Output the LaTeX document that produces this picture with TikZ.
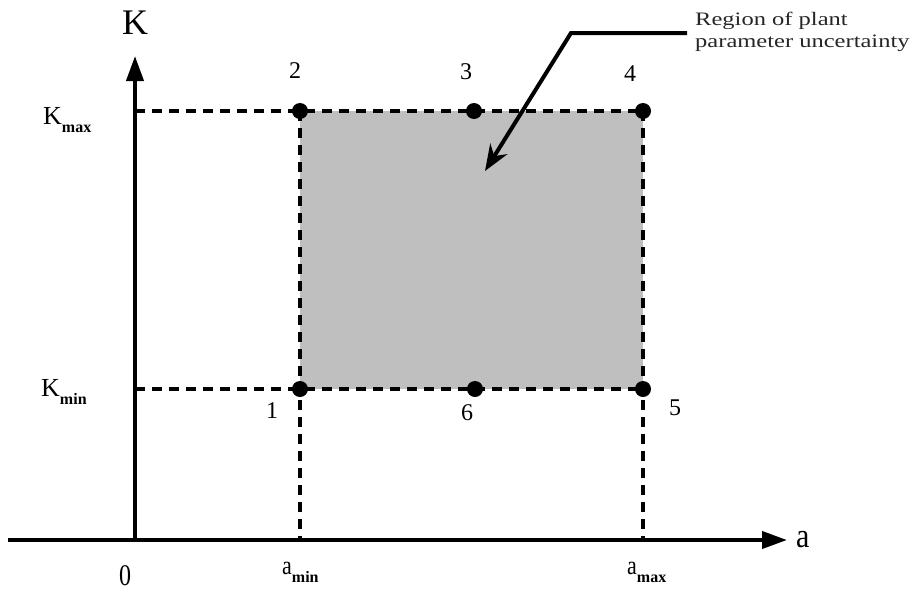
\documentclass[tikz,border=0pt]{standalone}
\usepackage{fontspec}
\setmainfont{Liberation Serif}
\usetikzlibrary{arrows.meta}
\begin{document}
\begin{tikzpicture}[x=1pt,y=-1pt,
  axis/.style={line width=4pt,-{Triangle[length=25pt,width=17pt]}},
  guide/.style={line width=4pt,dash pattern=on 10pt off 7pt},
  dot/.style={circle,fill=black,inner sep=0pt,minimum size=16pt},
  lbl/.style={inner sep=0pt,font=\fontsize{24}{24}\selectfont},
  txt/.style={inner sep=0pt,anchor=base west,text=black!85,font=\fontsize{19}{19}\selectfont},
]
\useasboundingbox (0,0) rectangle (916,592);
% key coordinates
\coordinate (xs) at (8,540);
\coordinate (xe) at (787,540);
\coordinate (ys) at (135,542);
\coordinate (ye) at (135,56);
\coordinate (kmaxax) at (135,111);
\coordinate (kminax) at (135,389);
\coordinate (aminax) at (300,540);
\coordinate (amaxax) at (643,540);
\coordinate (c1) at (300,389);
\coordinate (c2) at (300,111);
\coordinate (c3) at (474,111);
\coordinate (c4) at (643,111);
\coordinate (c5) at (643,389);
\coordinate (c6) at (475,389);
% shaded region
\fill[black!25] (c2) rectangle (c5);
% dashed guides
\draw[guide] (kmaxax) -- (c4);
\draw[guide] (kminax) -- (c5);
\draw[guide] (c2) -- (aminax);
\draw[guide] (c4) -- (amaxax);
% axes
\draw[axis] (xs) -- (xe);
\draw[axis] (ys) -- (ye);
% dots
\node[dot] (p1) at (c1) {};
\node[dot] (p2) at (c2) {};
\node[dot] (p3) at (c3) {};
\node[dot] (p4) at (c4) {};
\node[dot] (p5) at (c5) {};
\node[dot] (p6) at (c6) {};
% point labels
\node[lbl] (l1) at (272,411) {1};
\node[lbl] (l2) at (295,71) {2};
\node[lbl] (l3) at (466,72) {3};
\node[lbl] (l4) at (630,74) {4};
\node[lbl] (l5) at (675,408) {5};
\node[lbl] (l6) at (467,413) {6};
% axis labels
\node[inner sep=0pt,font=\fontsize{36}{36}\selectfont] (klab) at (135,23) {K};
\node[inner sep=0pt,anchor=base west,font=\fontsize{26}{26}\selectfont] (kmax) at (43,124)
  {K\raisebox{-8pt}{\fontsize{16}{16}\selectfont\bfseries max}};
\node[inner sep=0pt,anchor=base west,font=\fontsize{26}{26}\selectfont] (kmin) at (41,396)
  {K\raisebox{-8pt}{\fontsize{16}{16}\selectfont\bfseries min}};
\node[inner sep=0pt,font=\fontsize{24}{24}\selectfont] (zero) at (125,576) {\scalebox{1}[1.25]{0}};
\node[inner sep=0pt,anchor=base west,font=\fontsize{30}{30}\selectfont] (alab) at (796,547) {\scalebox{1}[1.15]{a}};
\node[inner sep=0pt,anchor=base west,font=\fontsize{22}{22}\selectfont] (amin) at (282,574)
  {\scalebox{1}[1.2]{a}\raisebox{-8pt}{\fontsize{16}{16}\selectfont\bfseries min}};
\node[inner sep=0pt,anchor=base west,font=\fontsize{22}{22}\selectfont] (amax) at (627,574)
  {\scalebox{1}[1.2]{a}\raisebox{-8pt}{\fontsize{16}{16}\selectfont\bfseries max}};
% annotation
\node[txt] (note1) at (695,25) {\scalebox{1.29}[1]{Region of plant}};
\node[txt] (note2) at (695,47) {\scalebox{1.29}[1]{parameter uncertainty}};
\coordinate (annA) at (687,33);
\coordinate (annB) at (571,33);
\coordinate (annT) at (485,171);
\draw[line width=4pt,-{Stealth[length=26pt,width=20pt]}] (annA) -- (annB) -- (annT);
\end{tikzpicture}
\end{document}
